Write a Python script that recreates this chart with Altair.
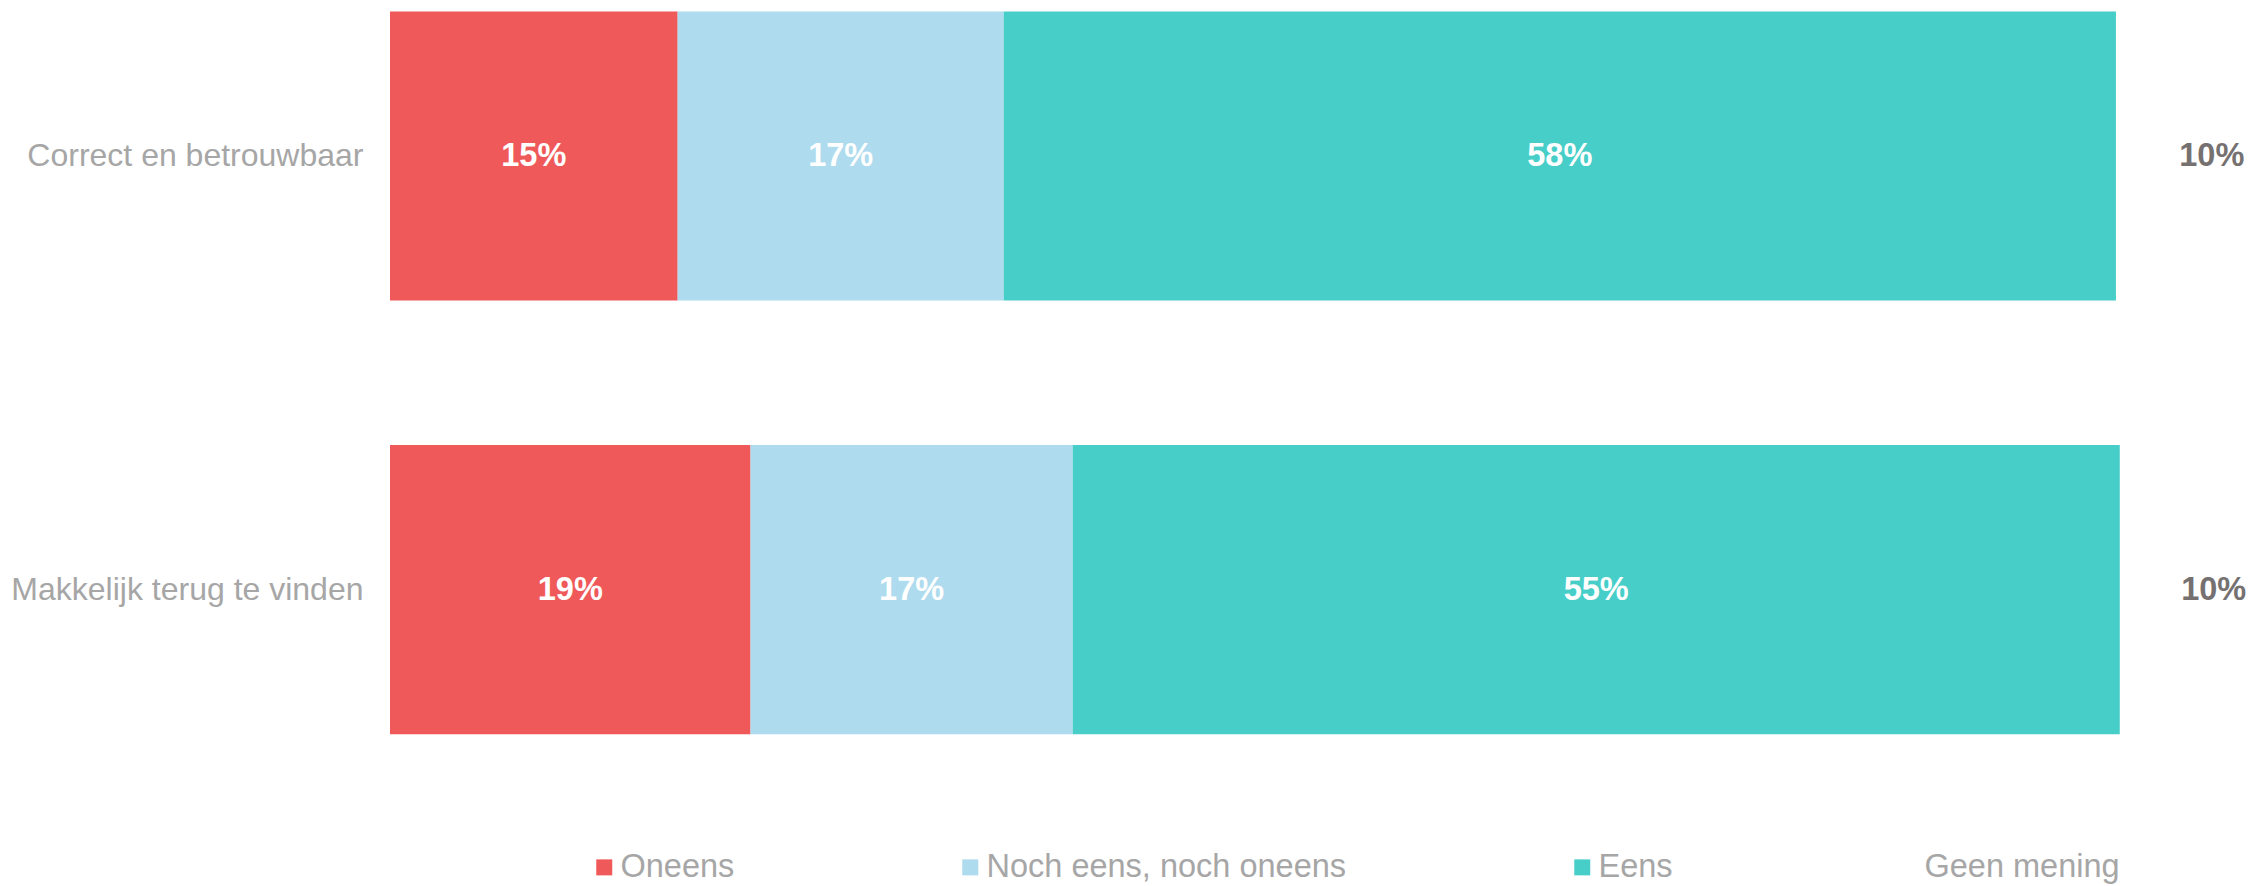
import altair as alt
import pandas as pd

items = ["Correct en betrouwbaar", "Makkelijk terug te vinden"]
categories = ["Oneens", "Noch eens, noch oneens", "Eens", "Geen mening"]
colors = ["#F05959", "#AEDBED", "#48CEC8", "#FFFFFF"]
values_correct = [15.0, 17.0, 58.0, 10.0]
values_makkelijk = [18.8, 16.8, 54.6, 9.8]

rows = []
for item, vals in zip(items, [values_correct, values_makkelijk]):
    for i, (c, v) in enumerate(zip(categories, vals)):
        rows.append({"item": item, "cat": c, "value": v, "order": i})
df = pd.DataFrame(rows)

FONT = "Liberation Sans"

base = alt.Chart(df).transform_stack(
    stack="value", groupby=["item"], as_=["x0", "x1"],
    sort=[alt.SortField("order", order="ascending")]
).transform_calculate(mid="(datum.x0 + datum.x1) / 2")

xscale = alt.Scale(domain=[0, 96], nice=False, zero=True)
yenc = alt.Y(
    "item:N", sort=items, title=None,
    scale=alt.Scale(paddingInner=0.3333, paddingOuter=0.008),
    axis=alt.Axis(domain=False, ticks=False, tickSize=0, grid=False,
                  labelFont=FONT, labelFontSize=32, labelColor="#A6A6A6",
                  labelPadding=27, labelLimit=0),
)

bars = base.transform_filter(alt.datum.cat != "Geen mening").mark_bar(clip=True).encode(
    x=alt.X("x0:Q", scale=xscale, axis=None),
    x2="x1:Q",
    y=yenc,
    color=alt.Color(
        "cat:N", title=None,
        scale=alt.Scale(domain=categories, range=colors),
        legend=alt.Legend(
            orient="none", legendX=198, legendY=843, direction="horizontal",
            symbolType="square", symbolSize=256, symbolStrokeWidth=0,
            labelFont=FONT, labelFontSize=32.5, labelColor="#A6A6A6",
            labelOffset=0, columnPadding=219, labelLimit=0,
        ),
    ),
)

text_layer = base.mark_text(font=FONT, fontSize=32.5, fontWeight="bold").encode(
    x=alt.X("mid:Q", scale=xscale, axis=None),
    y=alt.Y("item:N", sort=items, title=None),
    text="lbl:N",
    color=alt.condition(alt.datum.cat == "Geen mening", alt.value("#767171"), alt.value("#FFFFFF")),
).transform_calculate(lbl="format(datum.value, '.0f') + '%'")

chart = alt.layer(bars, text_layer).properties(
    width=1841, height=729.6,
    autosize=alt.AutoSizeParams(type="none"),
    padding={"left": 382, "top": 0, "right": 15, "bottom": 148.4},
).configure_view(stroke=None)

chart.save("out.html", embed_options={"renderer": "svg", "actions": False})
